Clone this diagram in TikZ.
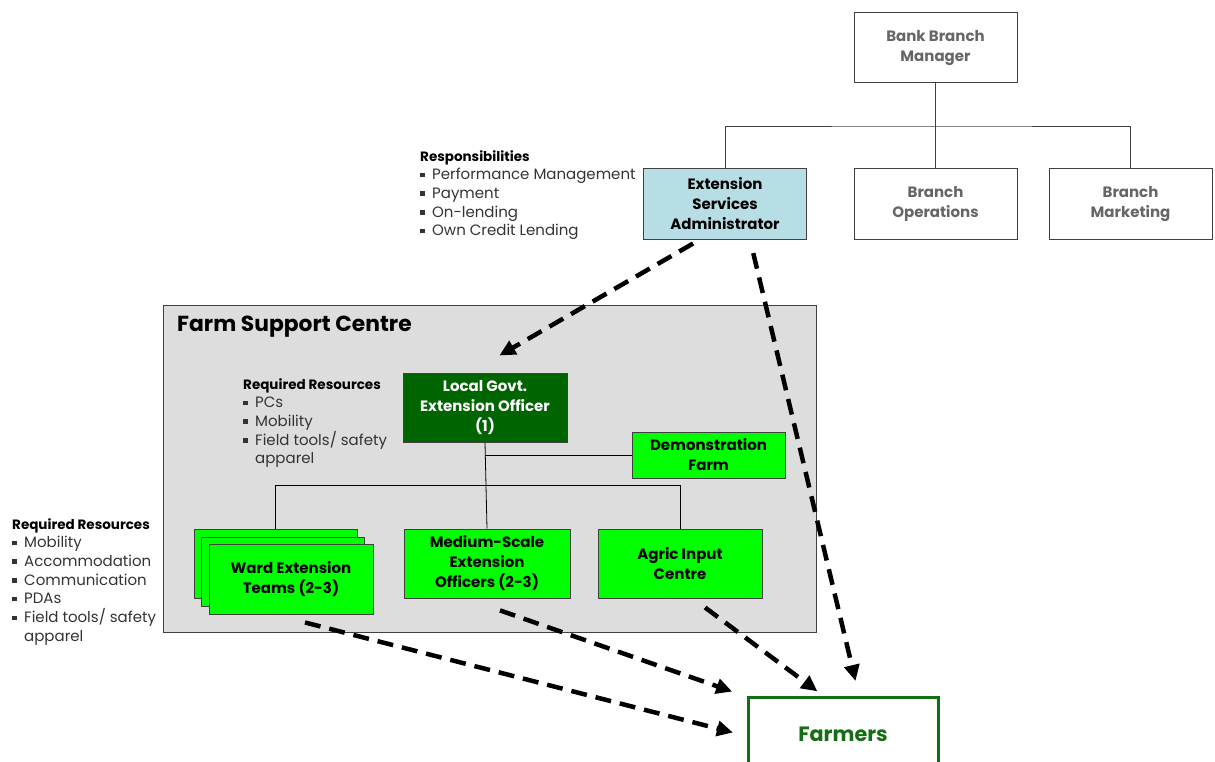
\documentclass[tikz,border=0pt]{standalone}
\usepackage{fontspec}
\setmainfont{Poppins}
\usetikzlibrary{arrows.meta,calc}
\definecolor{boxline}{RGB}{64, 64, 64}
\definecolor{bankgray}{RGB}{102, 102, 102}
\definecolor{esablue}{RGB}{183, 222, 228}
\definecolor{centregray}{RGB}{221, 221, 221}
\definecolor{lgeogreen}{RGB}{0, 100, 0}
\definecolor{brightgreen}{RGB}{0, 255, 0}
\definecolor{farmgreen}{RGB}{20, 110, 20}
\definecolor{listgray}{RGB}{51, 51, 51}
\newcommand{\bul}{\makebox[12pt][l]{\raisebox{0.3ex}{\rule{4.5pt}{4.5pt}}}}
\newcommand{\nobul}{\makebox[12pt][l]{}}
\newcommand{\listhead}[1]{{\fontsize{13.5}{19}\selectfont\bfseries\color{black}#1}}

\begin{document}
\begin{tikzpicture}[x=1pt, y=-1pt,
    orgbox/.style={draw=boxline, line width=1pt, inner sep=0pt, align=center,
                   minimum width=163pt, minimum height=70pt,
                   font=\fontsize{15}{20}\selectfont\bfseries},
    bankbox/.style={orgbox, fill=white, text=bankgray},
    greenbox/.style={orgbox, fill=brightgreen, minimum height=69pt},
    listtext/.style={align=left, anchor=north west, inner sep=0pt, text=listgray,
                     font=\fontsize{15}{18.7}\selectfont},
    flow/.style={line width=4.5pt, dash pattern=on 16pt off 9pt,
                 -{Triangle[length=16pt, width=15pt]}}]
    \useasboundingbox (0,0) rectangle (1215,762);

    % bank side
    \node[bankbox] (bank) at (935.5, 48)  {Bank Branch\\Manager};
    \node[orgbox, fill=esablue] (esa) at (725, 204) {Extension\\Services\\Administrator};
    \node[bankbox] (ops)  at (935.5, 204) {Branch\\Operations};
    \node[bankbox] (mkt)  at (1130.5, 204) {Branch\\Marketing};
    \draw[boxline, line width=0.8pt] (bank.south) -- (ops.north);
    \draw[boxline, line width=0.8pt] (esa.north) |- ($(bank.south)!0.5!(ops.north)$) -| (mkt.north);

    \node[listtext] (resp) at (420, 150)
        {\listhead{Responsibilities}\\
         \bul Performance Management\\
         \bul Payment\\
         \bul On-lending\\
         \bul Own Credit Lending};

    % farm support centre
    \node[draw=boxline, line width=1pt, fill=centregray, minimum width=653pt, minimum height=327pt,
          inner sep=0pt] (fsc) at (489.5, 468.5) {};
    \node[anchor=west, inner sep=0pt, font=\fontsize{21.8}{26}\selectfont\bfseries] (fsctitle)
        at (177, 327) {Farm Support Centre};

    \node[orgbox, fill=lgeogreen, text=white, minimum width=164pt, minimum height=69pt] (lgeo)
        at (485, 407.5) {Local Govt.\\Extension Officer\\(1)};
    \node[greenbox, minimum width=153pt, minimum height=46pt] (demo) at (708.5, 455)
        {Demonstration\\Farm};
    \node[listtext] (lgeores) at (243, 378)
        {\listhead{Required Resources}\\
         \bul PCs\\
         \bul Mobility\\
         \bul Field tools/ safety\\
         \nobul apparel};

    \node[greenbox] (wardc) at (275.5, 563.5) {};
    \node[greenbox] (wardb) at (282.5, 571.5) {};
    \node[greenbox, minimum width=164pt, minimum height=70pt] (ward) at (291, 579)
        {Ward Extension\\Teams (2-3)};
    \node[greenbox, minimum width=166pt] (medium) at (487, 563.5)
        {Medium-Scale\\Extension\\Officers (2-3)};
    \node[greenbox, minimum width=164pt] (agric) at (680, 563.5) {Agric Input\\Centre};

    \draw[black, line width=0.8pt] (lgeo.south) -- (medium.north);
    \draw[black, line width=0.8pt] (demo.west) -- (lgeo.south |- demo.west);
    \draw[black, line width=0.8pt] (wardc.north) |- ($(lgeo.south)!0.5!(medium.north)$) -| (agric.north);

    \node[listtext] (wardres) at (12, 518)
        {\listhead{Required Resources}\\
         \bul Mobility\\
         \bul Accommodation\\
         \bul Communication\\
         \bul PDAs\\
         \bul Field tools/ safety\\
         \nobul apparel};

    % farmers
    \node[draw=farmgreen, line width=3pt, fill=white, minimum width=190pt, minimum height=74pt,
          inner sep=0pt, text=farmgreen, font=\fontsize{20.7}{24}\selectfont\bfseries] (farmers)
        at (843, 734) {Farmers};

    % dashed flows
    \draw[flow, shorten <=8pt, shorten >=34pt] ($(esa.south)+(-25,0)$) -- ($(lgeo.north)+(-15,0)$);
    \draw[flow, shorten <=14pt, shorten >=15pt] ($(esa.south)+(25,0)$) -- ($(farmers.north)+(16,0)$);
    \draw[flow, shorten <=32pt, shorten >=14pt] ($(ward.south)+(-17,0)$) -- ($(farmers.west)+(0,2)$);
    \draw[flow, shorten <=36pt, shorten >=12pt] ($(medium.south)+(-21,0)$) -- ($(farmers.north west)+(-3,0)$);
    \draw[flow, shorten <=15pt, shorten >=7pt] ($(agric.south)+(13,0)$) -- ($(farmers.north)+(-20,0)$);
\end{tikzpicture}
\end{document}
